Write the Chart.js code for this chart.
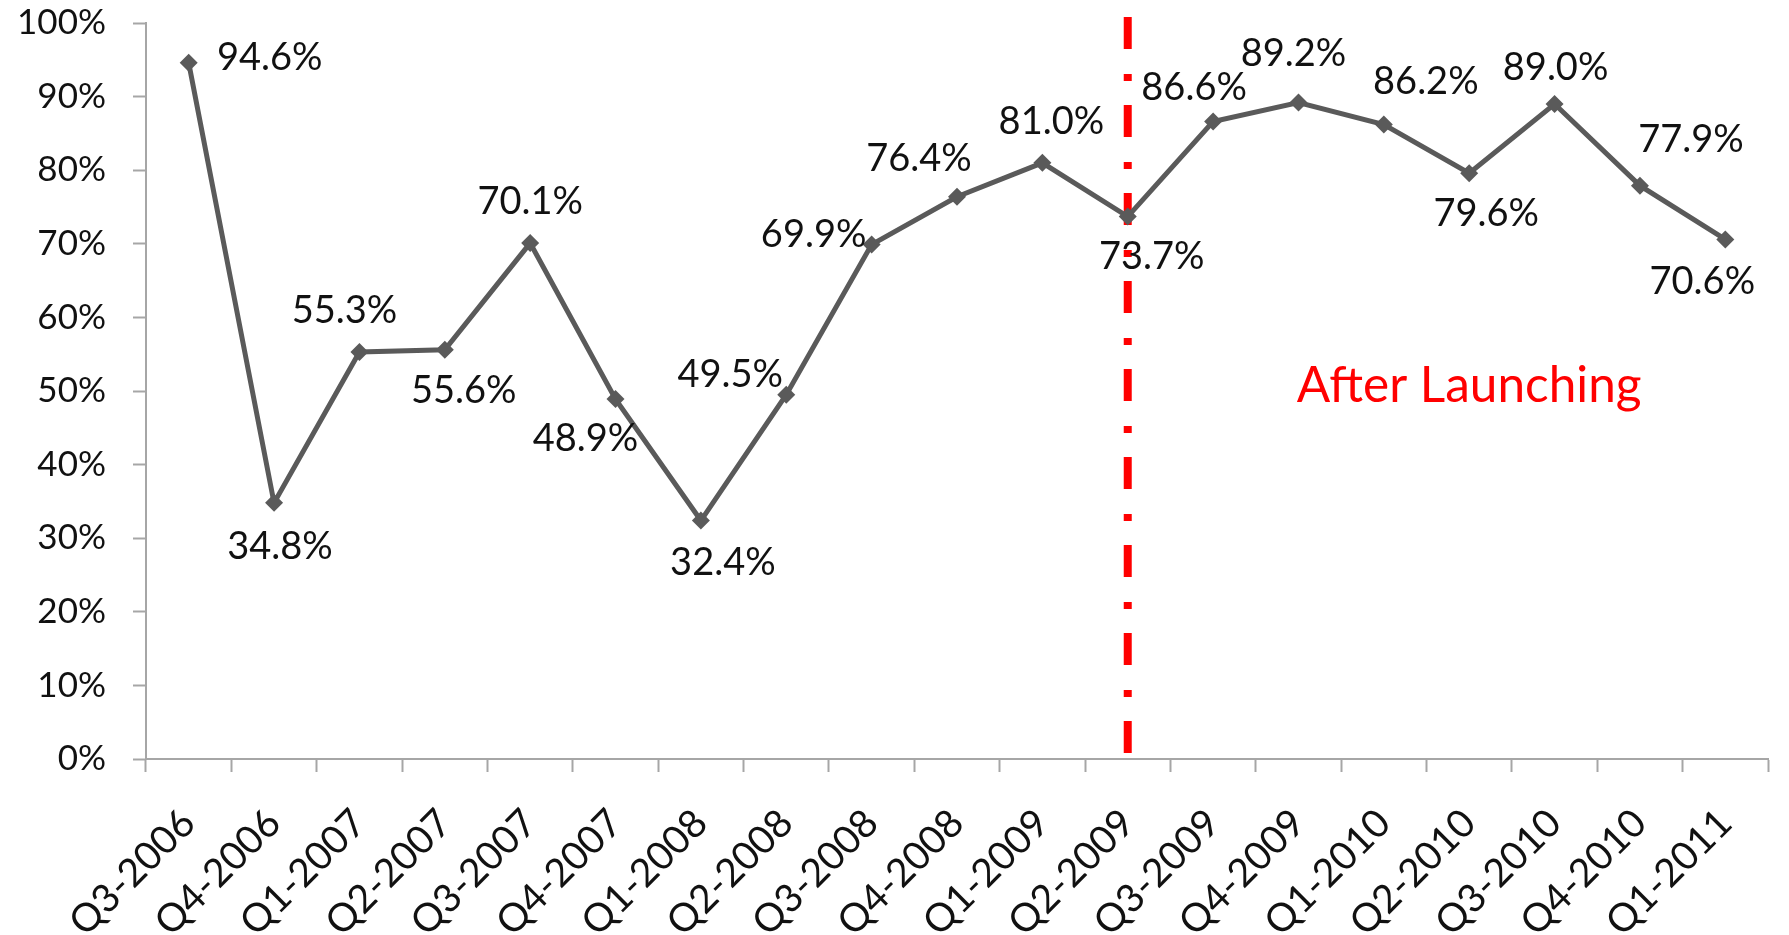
<!DOCTYPE html>
<html>
<head>
<meta charset="utf-8">
<title>Quarterly rate</title>
<script src="https://cdn.jsdelivr.net/npm/chart.js@4.4.1/dist/chart.umd.min.js"></script>
<style>
    html, body { margin: 0; padding: 0; background: #ffffff; }
    #wrap { width: 1789px; height: 935px; }
</style>
</head>
<body>
<div id="wrap"><canvas id="chart" width="1789" height="935"></canvas></div>
<script>
// Quarters along the x axis
const quarters = ['Q3-2006', 'Q4-2006', 'Q1-2007', 'Q2-2007', 'Q3-2007', 'Q4-2007',
    'Q1-2008', 'Q2-2008', 'Q3-2008', 'Q4-2008', 'Q1-2009', 'Q2-2009',
    'Q3-2009', 'Q4-2009', 'Q1-2010', 'Q2-2010', 'Q3-2010', 'Q4-2010', 'Q1-2011'];

// Rate per quarter, in percent
const rates = [94.6, 34.8, 55.3, 55.6, 70.1, 48.9, 32.4, 49.5, 69.9, 76.4,
    81.0, 73.7, 86.6, 89.2, 86.2, 79.6, 89.0, 77.9, 70.6];

// Y axis tick values, in percent
const yTicks = [0, 10, 20, 30, 40, 50, 60, 70, 80, 90, 100];

// Quarter where the launch happened, and the note beside it
const launchQuarter = 'Q2-2009';
const launchNote = 'After Launching';

// Value label offsets from each point (px), so labels don't sit on the line
const labelOffsets = [
    [81, -6], [6, 42], [-15, -43], [19, 40], [0, -43], [-30, 38], [22, 41],
    [-56, -21], [-58, -11], [-38, -39], [9, -43], [24, 39], [-19, -35],
    [-5, -50], [42, -44], [17, 39], [1, -38], [51, -47], [-23, 41]
];

const FONT = 'Lato, "Open Sans", sans-serif';
const LINE_GRAY = '#5a5a5a';
const AXIS_GRAY = '#a6a6a6';

// Draws the dash-dot launch marker and its note
const launchPlugin = {
    id: 'launchLine',
    beforeDatasetsDraw(chart) {
        const ctx = chart.ctx;
        const area = chart.chartArea;
        const x = chart.scales.x.getPixelForValue(quarters.indexOf(launchQuarter));

        ctx.save();
        ctx.strokeStyle = '#ff0000';
        ctx.lineWidth = 8;
        ctx.lineCap = 'butt';
        ctx.setLineDash([32, 25, 7, 24]);
        ctx.beginPath();
        ctx.moveTo(x, area.top - 6);
        ctx.lineTo(x, area.bottom - 6);
        ctx.stroke();
        ctx.restore();

        // note is centred over Q2-2010, about halfway up
        const noteX = chart.scales.x.getPixelForValue(15);
        const noteY = chart.scales.y.getPixelForValue(48.5);
        ctx.save();
        ctx.fillStyle = '#ff0000';
        ctx.font = '49.5px ' + FONT;
        ctx.textAlign = 'center';
        ctx.textBaseline = 'alphabetic';
        ctx.fillText(launchNote, noteX, noteY);
        ctx.restore();
    }
};

// Writes the percentage next to every point
const valueLabelPlugin = {
    id: 'valueLabels',
    afterDatasetsDraw(chart) {
        const ctx = chart.ctx;
        const meta = chart.getDatasetMeta(0);
        const size = 38;

        ctx.save();
        ctx.fillStyle = '#111111';
        ctx.font = size + 'px ' + FONT;
        ctx.textAlign = 'center';
        ctx.textBaseline = 'alphabetic';
        meta.data.forEach((pt, i) => {
            const off = labelOffsets[i];
            ctx.fillText(rates[i].toFixed(1) + '%', pt.x + off[0], pt.y + off[1] + size * 0.36);
        });
        ctx.restore();
    }
};

const ctx = document.getElementById('chart').getContext('2d');
new Chart(ctx, {
    type: 'line',
    data: {
        labels: quarters,
        datasets: [{
            data: rates,
            borderColor: LINE_GRAY,
            borderWidth: 5,
            backgroundColor: LINE_GRAY,
            pointStyle: 'rectRot',
            pointRadius: 9,
            pointBorderWidth: 0,
            pointBackgroundColor: LINE_GRAY,
            tension: 0,
            fill: false
        }]
    },
    options: {
        responsive: false,
        devicePixelRatio: 1,
        animation: false,
        layout: {
            padding: { top: 23, right: 21, left: 0, bottom: 0 }
        },
        plugins: {
            legend: { display: false },
            tooltip: { enabled: false }
        },
        scales: {
            x: {
                type: 'category',
                offset: true,
                grid: {
                    offset: true,
                    drawOnChartArea: false,
                    drawTicks: true,
                    tickLength: 13,
                    tickWidth: 2,
                    color: AXIS_GRAY
                },
                border: { color: AXIS_GRAY, width: 2 },
                ticks: {
                    minRotation: 45,
                    maxRotation: 45,
                    autoSkip: false,
                    padding: 28,
                    color: '#111111',
                    font: { family: FONT, size: 39 }
                },
                afterFit(scale) {
                    scale.height = 176;
                    scale.paddingLeft = 0;
                    scale.paddingRight = 0;
                }
            },
            y: {
                min: 0,
                max: 100,
                grid: {
                    drawOnChartArea: false,
                    drawTicks: true,
                    tickLength: 13,
                    tickWidth: 2,
                    color: AXIS_GRAY
                },
                border: { color: AXIS_GRAY, width: 2 },
                afterBuildTicks(scale) {
                    scale.ticks = yTicks.map(v => ({ value: v }));
                },
                ticks: {
                    padding: 27,
                    color: '#111111',
                    font: { family: FONT, size: 35 },
                    callback: value => value + '%'
                },
                afterFit(scale) {
                    scale.width = 146;
                    scale.paddingTop = 0;
                    scale.paddingBottom = 0;
                }
            }
        }
    },
    plugins: [launchPlugin, valueLabelPlugin]
});
</script>
</body>
</html>
